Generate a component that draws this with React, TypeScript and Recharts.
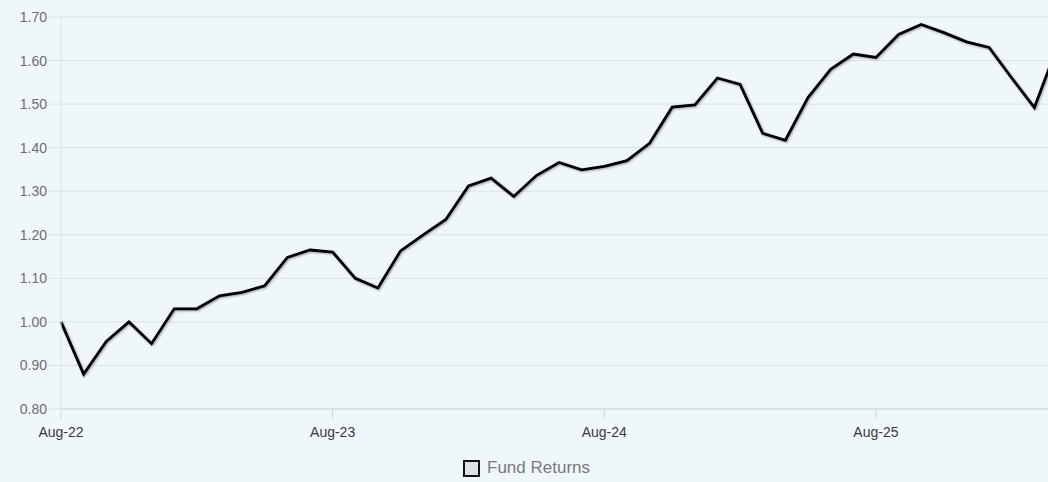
import { LineChart, Line, XAxis, YAxis, CartesianGrid, Legend } from "recharts";

const months = [
  "Aug-22", "Sep-22", "Oct-22", "Nov-22", "Dec-22",
  "Jan-23", "Feb-23", "Mar-23", "Apr-23", "May-23", "Jun-23", "Jul-23", "Aug-23", "Sep-23", "Oct-23", "Nov-23", "Dec-23",
  "Jan-24", "Feb-24", "Mar-24", "Apr-24", "May-24", "Jun-24", "Jul-24", "Aug-24", "Sep-24", "Oct-24", "Nov-24", "Dec-24",
  "Jan-25", "Feb-25", "Mar-25", "Apr-25", "May-25", "Jun-25", "Jul-25", "Aug-25", "Sep-25", "Oct-25", "Nov-25", "Dec-25",
  "Jan-26", "Feb-26", "Mar-26", "Apr-26",
];

const fundReturns = [
  1.0, 0.88, 0.955, 1.0, 0.95, 1.03, 1.03, 1.06, 1.068, 1.083, 1.148, 1.165, 1.16,
  1.1, 1.078, 1.163, 1.2, 1.235, 1.312, 1.33, 1.288, 1.336, 1.366, 1.349, 1.357,
  1.37, 1.41, 1.493, 1.498, 1.56, 1.545, 1.433, 1.417, 1.515, 1.58, 1.615, 1.607,
  1.66, 1.683, 1.664, 1.643, 1.63, 1.56, 1.492, 1.63,
];

const xTicks = ["Aug-22", "Aug-23", "Aug-24", "Aug-25"];
const yTicks = [0.8, 0.9, 1.0, 1.1, 1.2, 1.3, 1.4, 1.5, 1.6, 1.7];

const data = months.map((month, i) => ({ month, fund: fundReturns[i] }));

const font = 'Arial, "Liberation Sans", sans-serif';

const LegendBox = () => (
  <div style={{ display: "flex", justifyContent: "center", alignItems: "center", fontFamily: font, paddingRight: 4 }}>
    <svg width={17} height={17} style={{ marginRight: 7 }}>
      <rect x={1} y={1} width={15} height={15} fill="#dde1e3" stroke="#111" strokeWidth={2} />
    </svg>
    <span style={{ fontSize: 17, color: "#7a7a7a" }}>Fund Returns</span>
  </div>
);

export default function App() {
  return (
    <div
      style={{
        position: "fixed",
        left: 0,
        top: 0,
        width: 1048,
        height: 482,
        overflow: "hidden",
        background: "#f0f7fa",
      }}
    >
      <LineChart width={1070} height={482} data={data} margin={{ top: 17, right: 13, left: 0, bottom: 23 }}>
        <CartesianGrid vertical={false} stroke="#dce3e7" />
        <XAxis
          dataKey="month"
          ticks={xTicks}
          interval={0}
          height={30}
          tickSize={10}
          tickMargin={8}
          stroke="#cdd4d8"
          tick={{ fill: "#3a3a3a", fontSize: 14, fontFamily: font }}
        />
        <YAxis
          domain={[0.8, 1.7]}
          ticks={yTicks}
          width={61}
          tickSize={12}
          tickMargin={2}
          stroke="#dce3e7"
          tickFormatter={(v: number) => v.toFixed(2)}
          tick={{ fill: "#6e6e6e", fontSize: 14, fontFamily: font }}
        />
        <Legend verticalAlign="bottom" wrapperStyle={{ bottom: 4 }} content={() => <LegendBox />} />
        <Line
          type="linear"
          dataKey="fund"
          name="Fund Returns"
          stroke="#000"
          strokeWidth={2.8}
          dot={false}
          isAnimationActive={false}
          style={{ filter: "drop-shadow(1px 1px 1px rgba(0,0,0,0.35))" }}
        />
      </LineChart>
    </div>
  );
}
